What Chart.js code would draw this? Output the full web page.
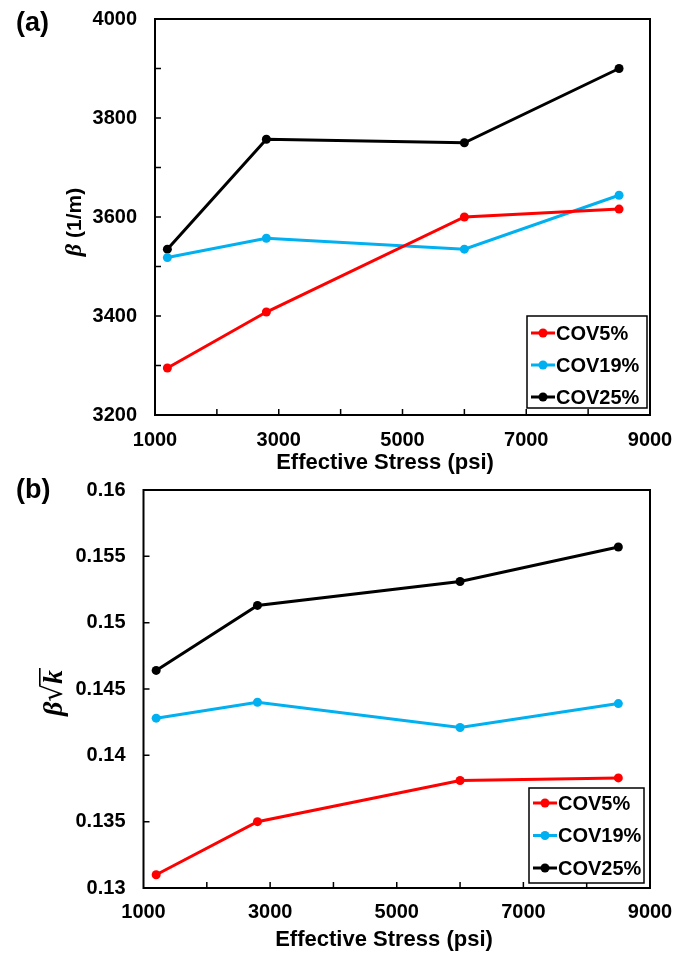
<!DOCTYPE html>
<html>
<head>
<meta charset="utf-8">
<script src="https://cdn.jsdelivr.net/npm/chart.js@4.4.1/dist/chart.umd.min.js"></script>
<style>
  html, body { margin: 0; padding: 0; background: #fff; }
  .panneau { position: absolute; left: 0; width: 674px; }
</style>
</head>
<body>
<div class="panneau" style="top:0"><canvas id="graphiqueA" width="674" height="478"></canvas></div>
<div class="panneau" style="top:478px"><canvas id="graphiqueB" width="674" height="479"></canvas></div>
<script>
// ==========================================================================
//   Données
//   Axe X : contrainte effective (psi) | Axe Y : beta et beta*sqrt(k)
// ==========================================================================

const contrainte   = [1200, 2800, 6000, 8500];
const series       = ['COV5%', 'COV19%', 'COV25%'];
const couleurs     = ['#FF0000', '#00B0F0', '#000000'];

const betaCov5     = [3295, 3408, 3600, 3616];
const betaCov19    = [3518, 3557, 3535, 3644];
const betaCov25    = [3535, 3757, 3750, 3900];

const betaRacK5    = [0.1310, 0.1350, 0.1381, 0.1383];
const betaRacK19   = [0.1428, 0.1440, 0.1421, 0.1439];
const betaRacK25   = [0.1464, 0.1513, 0.1531, 0.1557];

const titreAxeX    = 'Effective Stress (psi)';

const POLICE = '"Liberation Sans", Arial, sans-serif';

function jeuDeDonnees(valeurs, i) {
    return {
        label: series[i],
        data: contrainte.map((x, k) => ({ x: x, y: valeurs[k] })),
        borderColor: couleurs[i],
        backgroundColor: couleurs[i],
        borderWidth: 3,
        pointRadius: 4.5,
        pointHoverRadius: 4.5,
        pointBorderWidth: 0,
        tension: 0
    };
}

// Cadre complet + petits traits de graduation tournés vers l'intérieur
const cadre = {
    id: 'cadre',
    afterDatasetsDraw(chart) {
        const { ctx, chartArea: a, scales } = chart;
        ctx.save();
        ctx.strokeStyle = '#000';
        ctx.lineWidth = 2;
        ctx.strokeRect(a.left, a.top, a.right - a.left, a.bottom - a.top);
        ctx.lineWidth = 1.5;
        ctx.beginPath();
        scales.x.ticks.forEach(t => {
            const px = scales.x.getPixelForValue(t.value);
            if (px <= a.left + 1 || px >= a.right - 1) return;
            ctx.moveTo(px, a.bottom);
            ctx.lineTo(px, a.bottom - 6);
        });
        scales.y.ticks.forEach(t => {
            const py = scales.y.getPixelForValue(t.value);
            if (py <= a.top + 1 || py >= a.bottom - 1) return;
            ctx.moveTo(a.left, py);
            ctx.lineTo(a.left + 6, py);
        });
        ctx.stroke();
        ctx.restore();
    }
};

// Légende encadrée en bas à droite de la zone de tracé
const legendeEncadree = {
    id: 'legendeEncadree',
    afterDraw(chart, args, o) {
        const { ctx, chartArea: a } = chart;
        const x1 = a.right - o.margeDroite, y1 = a.bottom - o.margeBas;
        const x0 = x1 - o.largeur, y0 = y1 - o.hauteur;
        ctx.save();
        ctx.fillStyle = '#fff';
        ctx.fillRect(x0, y0, o.largeur, o.hauteur);
        ctx.strokeStyle = '#000';
        ctx.lineWidth = 1.5;
        ctx.strokeRect(x0, y0, o.largeur, o.hauteur);
        ctx.font = 'bold 20px ' + POLICE;
        ctx.textBaseline = 'middle';
        ctx.textAlign = 'left';
        chart.data.datasets.forEach((ds, i) => {
            const y = y0 + o.haut + i * o.pas;
            const lx = x0 + 4;
            ctx.strokeStyle = ds.borderColor;
            ctx.lineWidth = 3;
            ctx.beginPath();
            ctx.moveTo(lx, y);
            ctx.lineTo(lx + 24, y);
            ctx.stroke();
            ctx.fillStyle = ds.borderColor;
            ctx.beginPath();
            ctx.arc(lx + 12, y, 4.5, 0, Math.PI * 2);
            ctx.fill();
            ctx.fillStyle = '#000';
            ctx.fillText(ds.label, lx + 25, y + 1);
        });
        ctx.restore();
    }
};

// Titres des axes (le titre Y mélange les polices) et étiquette du panneau
const titres = {
    id: 'titres',
    afterDraw(chart, args, o) {
        const { ctx, chartArea: a } = chart;
        ctx.save();
        ctx.fillStyle = '#000';
        ctx.textBaseline = 'middle';
        ctx.textAlign = 'left';
        ctx.font = 'bold 27px ' + POLICE;
        ctx.fillText(o.panneau, 16, o.panneauY);

        ctx.textAlign = 'center';
        ctx.font = 'bold 22px ' + POLICE;
        ctx.fillText(titreAxeX, o.axeXx, o.axeXy);

        ctx.textAlign = 'left';
        ctx.translate(o.titreX, (a.top + a.bottom) / 2 + o.decalage);
        ctx.rotate(-Math.PI / 2);
        ctx.textBaseline = 'alphabetic';
        if (o.mode === 'beta') {
            const fB = 'italic bold 24px "Liberation Serif", serif';
            const fT = 'bold 21px ' + POLICE;
            ctx.font = fB; const wB = ctx.measureText('β ').width;
            ctx.font = fT; const wT = ctx.measureText('(1/m)').width;
            let x = -(wB + wT) / 2;
            ctx.font = fB; ctx.fillText('β ', x, 8);
            ctx.font = fT; ctx.fillText('(1/m)', x + wB, 8);
        } else {
            const fB = 'italic bold 28px "Liberation Serif", serif';
            const fR = '28px "DejaVu Sans", sans-serif';
            ctx.font = fB; const wB = ctx.measureText('β').width;
            ctx.font = fR; const mR = ctx.measureText('√'); const wR = mR.width;
            ctx.font = fB; const wK = ctx.measureText('k').width;
            let x = -(wB + wR + wK + 2) / 2;
            ctx.font = fB; ctx.fillText('β', x, 9);
            ctx.font = fR; ctx.fillText('√', x + wB, 9);
            const haut = 9 - mR.actualBoundingBoxAscent;
            ctx.font = fB; ctx.fillText('k', x + wB + wR, 9);
            ctx.lineWidth = 1.6;
            ctx.strokeStyle = '#000';
            ctx.beginPath();
            ctx.moveTo(x + wB + wR - 1.5, haut + 0.8);
            ctx.lineTo(x + wB + wR + wK + 2, haut + 0.8);
            ctx.stroke();
        }
        ctx.restore();
    }
};

// Les traits de graduation de Chart.js restent invisibles : ils servent
// seulement à écarter les étiquettes de l'axe
function grilleInvisible(longueur) {
    return { display: true, drawOnChartArea: false, drawTicks: true,
             tickLength: longueur, color: 'rgba(0,0,0,0)' };
}

function options(cfg) {
    return {
        responsive: false,
        animation: false,
        layout: { padding: { left: 0, right: 24, top: cfg.haut, bottom: 0 } },
        plugins: {
            legend: { display: false },
            tooltip: { enabled: false },
            legendeEncadree: cfg.legende,
            titres: cfg.titres
        },
        scales: {
            x: {
                type: 'linear',
                min: 1000, max: 9000,
                grid: grilleInvisible(cfg.padX),
                border: { display: false },
                ticks: {
                    stepSize: 1000,
                    padding: 0,
                    color: '#000',
                    font: { family: POLICE, size: 20, weight: 'bold' },
                    maxRotation: 0,
                    autoSkip: false,
                    callback: v => ((v - 1000) % 2000 === 0 ? String(v) : '')
                },
                afterFit: s => { s.height = cfg.hauteurX; }
            },
            y: {
                min: cfg.yMin, max: cfg.yMax,
                grid: grilleInvisible(18),
                border: { display: false },
                ticks: {
                    stepSize: cfg.pasY,
                    padding: 0,
                    color: '#000',
                    font: { family: POLICE, size: 20, weight: 'bold' },
                    autoSkip: false,
                    callback: cfg.etiquetteY
                },
                afterFit: s => { s.width = cfg.largeurY; }
            }
        }
    };
}

// ==========================================================================
//   (a) beta en fonction de la contrainte effective
// ==========================================================================
new Chart(document.getElementById('graphiqueA'), {
    type: 'line',
    data: { datasets: [jeuDeDonnees(betaCov5, 0), jeuDeDonnees(betaCov19, 1), jeuDeDonnees(betaCov25, 2)] },
    options: options({
        haut: 19, largeurY: 155, hauteurX: 63, padX: 13,
        yMin: 3200, yMax: 4000, pasY: 100,
        etiquetteY: v => (v % 200 === 0 ? String(v) : ''),
        legende: { margeDroite: 3, margeBas: 7, largeur: 120, hauteur: 92, haut: 17, pas: 32 },
        titres: { panneau: '(a)', panneauY: 24, mode: 'beta', titreX: 73, decalage: 5,
                  axeXx: 385, axeXy: 463 }
    }),
    plugins: [cadre, legendeEncadree, titres]
});

// ==========================================================================
//   (b) beta*sqrt(k) en fonction de la contrainte effective
// ==========================================================================
new Chart(document.getElementById('graphiqueB'), {
    type: 'line',
    data: { datasets: [jeuDeDonnees(betaRacK5, 0), jeuDeDonnees(betaRacK19, 1), jeuDeDonnees(betaRacK25, 2)] },
    options: options({
        haut: 11.3, largeurY: 143.5, hauteurX: 69, padX: 12,
        yMin: 0.13, yMax: 0.16, pasY: 0.005,
        etiquetteY: v => String(+v.toFixed(3)),
        legende: { margeDroite: 6, margeBas: 5, largeur: 115, hauteur: 95, haut: 15, pas: 32.5 },
        titres: { panneau: '(b)', panneauY: 13, mode: 'racine', titreX: 53, decalage: 3,
                  axeXx: 384, axeXy: 462 }
    }),
    plugins: [cadre, legendeEncadree, titres]
});
</script>
</body>
</html>
